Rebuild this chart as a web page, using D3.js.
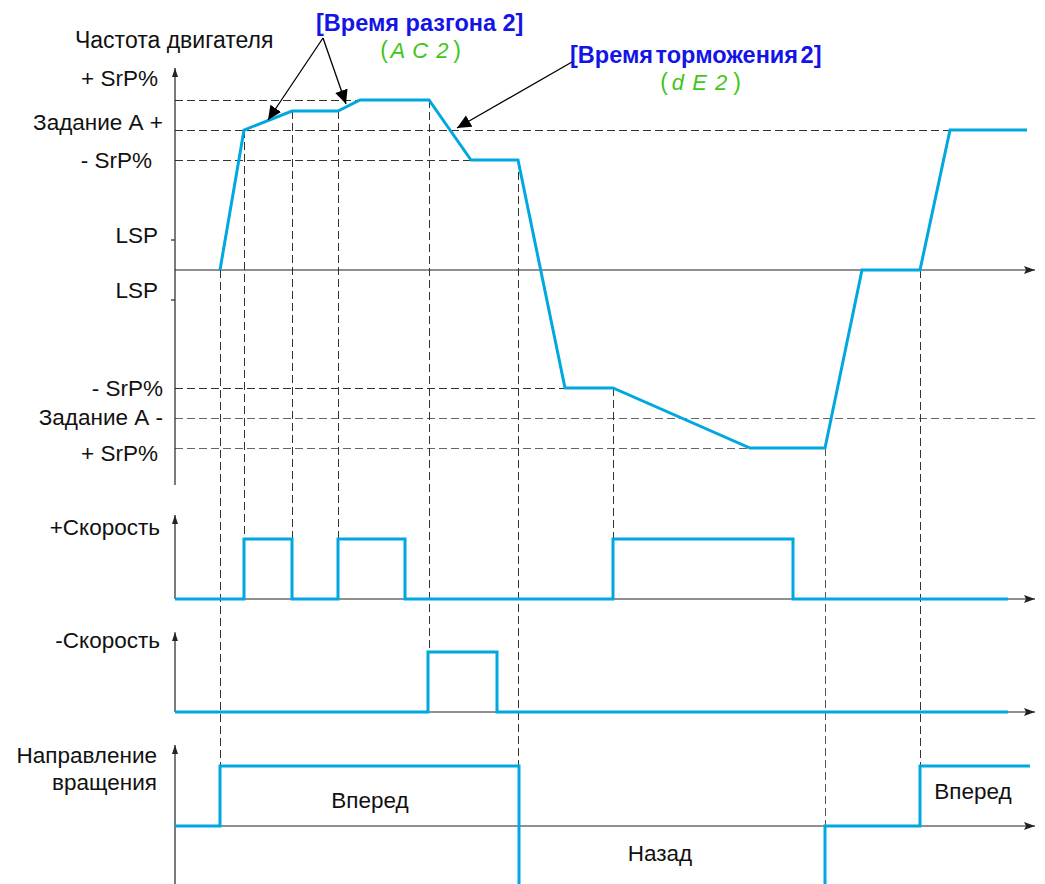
<!DOCTYPE html>
<html><head><meta charset="utf-8">
<script src="https://cdn.jsdelivr.net/npm/d3@7"></script>
<style>
body{margin:0;background:#fff}
text{font-family:"Liberation Sans",Arial,sans-serif;fill:#111}
</style>
</head><body>
<svg id="c" width="1045" height="884"></svg>
<script>
// ---------- data ----------
// motor frequency profile (time units, frequency units)
const profileTimes = [4.5, 6.9, 11.7, 16.3, 18.5, 25.4, 29.6, 34.3, 39.0, 43.8, 57.5, 65.0, 68.7, 74.5, 77.5, 85.2];
const profileFreq  = [0, 140, 159, 159, 170, 170, 110, 110, -118, -118, -178, -178, 0, 0, 140, 140];

// reference levels on the frequency axis
const levelNames  = ["+ SrP%", "Задание А +", "- SrP%", "LSP", "LSP", "- SrP%", "Задание А -", "+ SrP%"];
const levelValues = [170, 140, 110, 30, -30, -118, -148, -178];
const levelGuideEnd = [18.5, 85.2, 29.6, null, null, 39.0, 86, 57.5];

// +Speed, -Speed, direction: edges and states
const plusEdges  = [0, 6.9, 11.7, 16.3, 23.0, 43.8, 61.8, 83.3];
const plusStates = [0, 1, 0, 1, 0, 1, 0];
const minusEdges  = [0, 25.3, 32.2, 83.3];
const minusStates = [0, 1, 0];
const dirEdges  = [0, 4.5, 34.4, 65.0, 74.5, 85.5];
const dirStates = [0, 1, -1, 0, 1];

// vertical guide lines: time, top frequency, bottom panel + level
const guideTimes   = [4.5, 6.9, 11.7, 16.3, 25.4, 34.3, 43.8, 65.0, 74.5];
const guideTopFreq = [0, 140, 159, 159, 170, 110, -118, -178, 0];
const guidePanel   = ["dir", "plus", "plus", "plus", "minus", "dir", "plus", "dir", "dir"];
const guideLevel   = [0, 1, 1, 1, 1, 1, 1, 0, 1];

// ---------- scales ----------
const svg = d3.select("#c");
const x = d3.scaleLinear().domain([0, 86]).range([175, 1035]);
const yF = d3.scaleLinear().domain([-200, 200]).range([470, 70]);
const yPlus = d3.scaleLinear().domain([0, 1]).range([599, 539]);
const yMinus = d3.scaleLinear().domain([0, 1]).range([712, 652]);
const yDir = d3.scaleLinear().domain([-1, 1]).range([886, 766]);
const panelScale = {plus: yPlus, minus: yMinus, dir: yDir};

const BLUE = "#00a8e0";
const defs = svg.append("defs");
defs.append("marker").attr("id","axArrow").attr("markerUnits","userSpaceOnUse")
  .attr("markerWidth",12).attr("markerHeight",10).attr("refX",11).attr("refY",4)
  .attr("orient","auto").append("path").attr("d","M0,0 L11,4 L0,8 L2,4 z").attr("fill","#222");
defs.append("marker").attr("id","axArrowS").attr("markerUnits","userSpaceOnUse")
  .attr("markerWidth",10).attr("markerHeight",10).attr("refX",9).attr("refY",3)
  .attr("orient","auto").append("path").attr("d","M0,0 L9,3 L0,6 z").attr("fill","#222");
defs.append("marker").attr("id","annArrow").attr("markerUnits","userSpaceOnUse")
  .attr("markerWidth",16).attr("markerHeight",14).attr("refX",14).attr("refY",6.5)
  .attr("orient","auto").append("path").attr("d","M0,0 L14,6.5 L0,13 z").attr("fill","#000");

// ---------- guides ----------
const gGuides = svg.append("g").attr("shape-rendering","crispEdges");
levelValues.forEach((v, i) => {
  if (levelGuideEnd[i] == null) return;
  const gray = (v === -148 || v === -178);
  gGuides.append("line")
    .attr("x1", x(0)).attr("x2", x(levelGuideEnd[i]))
    .attr("y1", yF(v) + 0.5).attr("y2", yF(v) + 0.5)
    .attr("stroke", gray ? "#666" : "#333").attr("stroke-width", 1)
    .attr("stroke-dasharray", "8,4");
});
guideTimes.forEach((t, i) => {
  gGuides.append("line")
    .attr("x1", Math.round(x(t)) + 0.5).attr("x2", Math.round(x(t)) + 0.5)
    .attr("y1", yF(guideTopFreq[i])).attr("y2", panelScale[guidePanel[i]](guideLevel[i]))
    .attr("stroke", i === 7 ? "#555" : "#333").attr("stroke-width", 1)
    .attr("stroke-dasharray", "8,4");
});

// ---------- axes ----------
const gAx = svg.append("g").attr("stroke", "#222").attr("stroke-width", 1.2);
gAx.append("line").attr("x1", x(0)).attr("x2", x(0)).attr("y1", yF(-215)).attr("y2", yF(202)).attr("marker-end","url(#axArrowS)");
gAx.append("line").attr("x1", x(0)).attr("x2", x(86)).attr("y1", yF(0)).attr("y2", yF(0)).attr("marker-end","url(#axArrow)");
[30, -30].forEach(v => gAx.append("line").attr("x1", x(0) - 4).attr("x2", x(0)).attr("y1", yF(v)).attr("y2", yF(v)));
gAx.append("line").attr("x1", x(0)).attr("x2", x(0)).attr("y1", yPlus(0)).attr("y2", yPlus(1.4)).attr("marker-end","url(#axArrowS)");
gAx.append("line").attr("x1", x(0)).attr("x2", x(86)).attr("y1", yPlus(0)).attr("y2", yPlus(0)).attr("marker-end","url(#axArrow)");
gAx.append("line").attr("x1", x(0)).attr("x2", x(0)).attr("y1", yMinus(0)).attr("y2", yMinus(1.33)).attr("marker-end","url(#axArrowS)");
gAx.append("line").attr("x1", x(0)).attr("x2", x(86)).attr("y1", yMinus(0)).attr("y2", yMinus(0)).attr("marker-end","url(#axArrow)");
gAx.append("line").attr("x1", x(0)).attr("x2", x(0)).attr("y1", yDir(-0.97)).attr("y2", yDir(1.35)).attr("marker-end","url(#axArrowS)");
gAx.append("line").attr("x1", x(0)).attr("x2", x(86)).attr("y1", yDir(0)).attr("y2", yDir(0)).attr("marker-end","url(#axArrow)");

// ---------- signals ----------
const profile = profileTimes.map((t, i) => [t, profileFreq[i]]);
svg.append("path").datum(profile)
  .attr("d", d3.line().x(d => x(d[0])).y(d => yF(d[1])))
  .attr("fill","none").attr("stroke",BLUE).attr("stroke-width",3).attr("stroke-linejoin","miter");

function stepPts(edges, states) {
  const pts = states.map((s, i) => [edges[i], s]);
  pts.push([edges[edges.length - 1], states[states.length - 1]]);
  return pts;
}
[[plusEdges, plusStates, yPlus], [minusEdges, minusStates, yMinus], [dirEdges, dirStates, yDir]].forEach(([e, s, ys]) => {
  svg.append("path").datum(stepPts(e, s))
    .attr("d", d3.line().curve(d3.curveStepAfter).x(d => x(d[0])).y(d => ys(d[1])))
    .attr("fill","none").attr("stroke",BLUE).attr("stroke-width",3);
});

// ---------- labels ----------
const FS = 22.5;
const labelDy = [-22, -8, 0, -5, -10, 0, -1, 5];
const labelRight = [158, 163, 152, 158, 158, 163, 163, 158];
levelNames.forEach((n, i) => {
  svg.append("text").text(n).attr("x", labelRight[i]).attr("y", yF(levelValues[i]) + labelDy[i])
    .attr("text-anchor","end").attr("dominant-baseline","central").attr("font-size",FS);
});
svg.append("text").text("Частота двигателя").attr("x", 75).attr("y", 40)
  .attr("dominant-baseline","central").attr("font-size",23);
svg.append("text").text("+Скорость").attr("x", 160).attr("y", yPlus(1.2))
  .attr("text-anchor","end").attr("dominant-baseline","central").attr("font-size",FS);
svg.append("text").text("-Скорость").attr("x", 160).attr("y", yMinus(1.2))
  .attr("text-anchor","end").attr("dominant-baseline","central").attr("font-size",FS);
svg.append("text").text("Направление").attr("x", 157).attr("y", yDir(1.18))
  .attr("text-anchor","end").attr("dominant-baseline","central").attr("font-size",FS);
svg.append("text").text("вращения").attr("x", 157).attr("y", yDir(0.73))
  .attr("text-anchor","end").attr("dominant-baseline","central").attr("font-size",FS);
svg.append("text").text("Вперед").attr("x", x(19.5)).attr("y", yDir(0.43))
  .attr("text-anchor","middle").attr("dominant-baseline","central").attr("font-size",FS);
svg.append("text").text("Вперед").attr("x", x(79.8)).attr("y", yDir(0.57))
  .attr("text-anchor","middle").attr("dominant-baseline","central").attr("font-size",FS);
svg.append("text").text("Назад").attr("x", x(48.5)).attr("y", yDir(-0.45))
  .attr("text-anchor","middle").attr("dominant-baseline","central").attr("font-size",FS);

// ---------- annotations ----------
svg.append("text").text("[Время разгона 2]").attr("x", 316).attr("y", 23)
  .attr("dominant-baseline","central").attr("font-size",23.5).attr("font-weight","bold")
  .style("fill","#1414e6");
svg.append("text").text("[Время торможения 2]").attr("x", 570).attr("y", 55)
  .attr("dominant-baseline","central").attr("font-size",23.5).attr("font-weight","bold")
  .attr("word-spacing",-4).style("fill","#1414e6");
const green = "#3fc61a";
function codeLabel(code, cx, cy) {
  svg.append("text").text("(").attr("x", cx - 36).attr("y", cy).attr("text-anchor","middle")
    .attr("dominant-baseline","central").attr("font-size",23).style("fill", green);
  svg.append("text").text(")").attr("x", cx + 37).attr("y", cy).attr("text-anchor","middle")
    .attr("dominant-baseline","central").attr("font-size",23).style("fill", green);
  svg.append("text").text(code).attr("x", cx).attr("y", cy).attr("text-anchor","middle")
    .attr("dominant-baseline","central").attr("font-size",22).attr("font-style","italic")
    .attr("font-family","DejaVu Sans Mono").attr("letter-spacing",1).style("fill", green);
}
codeLabel("A C 2", 420, 50);
codeLabel("d E 2", 700, 82);
// arrows to curve
const annTargets = [[9.3, 150], [17.1, 166]];
annTargets.forEach(([t, f]) => {
  svg.append("line").attr("x1", 323).attr("y1", 38).attr("x2", x(t)).attr("y2", yF(f))
    .attr("stroke","#000").attr("stroke-width",1.3).attr("marker-end","url(#annArrow)");
});
svg.append("line").attr("x1", 572).attr("y1", 62).attr("x2", x(28.2)).attr("y2", yF(142))
  .attr("stroke","#000").attr("stroke-width",1.3).attr("marker-end","url(#annArrow)");
</script>
</body></html>
